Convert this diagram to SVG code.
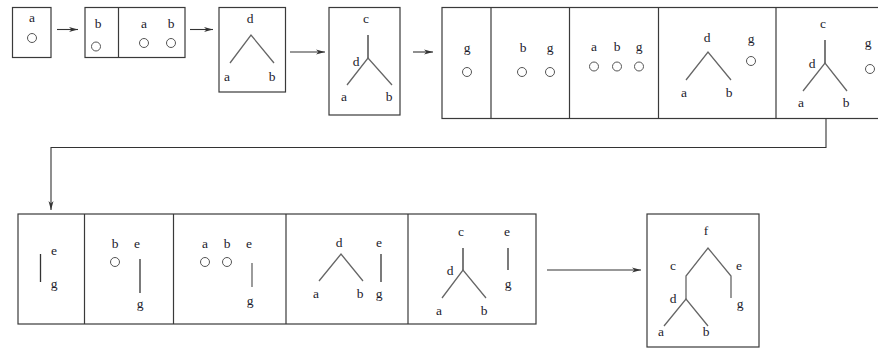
<svg xmlns="http://www.w3.org/2000/svg" width="878" height="356" viewBox="0 0 878 356">
<defs>
<style>
.box{fill:none;stroke:#3a3a3a;stroke-width:1.2}
.ln{fill:none;stroke:#666;stroke-width:1.3}
.vl{fill:none;stroke:#333;stroke-width:1.3}
.c{fill:none;stroke:#555;stroke-width:1}
.con{fill:none;stroke:#333;stroke-width:1.1}
text{font-family:'Liberation Serif','Times New Roman',serif;font-size:13.5px;fill:#1c1c2c;text-anchor:middle}
</style>
<marker id="ah" markerWidth="10" markerHeight="6" refX="9" refY="3" orient="auto" markerUnits="userSpaceOnUse">
<path d="M0,0.5 L9,3 L0,5.5 L2.5,3 z" fill="#333"/>
</marker>
</defs>
<g id="connectors">
<line class="con" x1="57" y1="29.5" x2="78" y2="29.5" marker-end="url(#ah)"/>
<line class="con" x1="190" y1="29.5" x2="213" y2="29.5" marker-end="url(#ah)"/>
<line class="con" x1="290" y1="52" x2="325" y2="52" marker-end="url(#ah)"/>
<line class="con" x1="413" y1="52" x2="433" y2="52" marker-end="url(#ah)"/>
<polyline class="con" points="826,119 826,147.5 51,147.5 51,210" marker-end="url(#ah)"/>
<line class="con" x1="547" y1="270" x2="641" y2="270" marker-end="url(#ah)"/>
</g>
<g font-family="Liberation Serif, Times New Roman, serif">
<g id="n1">
<rect class="box" x="12.5" y="7.5" width="38.5" height="50"/>
<text x="32" y="22">a</text>
<circle class="c" cx="32" cy="38" r="4.5"/>
</g>
<g id="n2">
<rect class="box" x="85" y="7.5" width="100" height="50"/>
<line class="box" x1="118.5" y1="7.5" x2="118.5" y2="57.5"/>
<text x="98" y="28">b</text>
<circle class="c" cx="96" cy="46.5" r="4.5"/>
<text x="144" y="28">a</text>
<text x="171" y="28">b</text>
<circle class="c" cx="144" cy="43" r="4.5"/>
<circle class="c" cx="171" cy="43" r="4.5"/>
</g>
<g id="n3">
<rect class="box" x="219" y="7.5" width="66.5" height="84.5"/>
<text x="250" y="23">d</text>
<polyline class="ln" points="230,63 251,35 274,63"/>
<text x="227" y="81">a</text>
<text x="272" y="81">b</text>
</g>
<g id="n4">
<rect class="box" x="329" y="7.5" width="71" height="107.5"/>
<text x="366" y="23">c</text>
<line class="vl" x1="368" y1="35" x2="368" y2="58"/>
<polyline class="ln" points="347,85 368,58 392,85"/>
<text x="356" y="66">d</text>
<text x="344" y="101">a</text>
<text x="389" y="101">b</text>
</g>
<g id="n5">
<rect class="box" x="442" y="7.5" width="440" height="111"/>
<line class="box" x1="491" y1="7.5" x2="491" y2="118.5"/>
<line class="box" x1="569.5" y1="7.5" x2="569.5" y2="118.5"/>
<line class="box" x1="658.5" y1="7.5" x2="658.5" y2="118.5"/>
<line class="box" x1="776" y1="7.5" x2="776" y2="118.5"/>
<text x="467" y="52">g</text>
<circle class="c" cx="467" cy="72" r="4.5"/>
<text x="523" y="52">b</text>
<text x="550" y="52">g</text>
<circle class="c" cx="522" cy="72" r="4.5"/>
<circle class="c" cx="550" cy="72" r="4.5"/>
<text x="594" y="51">a</text>
<text x="617" y="51">b</text>
<text x="639" y="51">g</text>
<circle class="c" cx="594" cy="66.5" r="4.5"/>
<circle class="c" cx="617" cy="66.5" r="4.5"/>
<circle class="c" cx="639" cy="66.5" r="4.5"/>
<text x="707" y="42">d</text>
<polyline class="ln" points="686,80 708,52 731,80"/>
<text x="684" y="97">a</text>
<text x="729" y="97">b</text>
<text x="751" y="43">g</text>
<circle class="c" cx="751" cy="61" r="4.5"/>
<text x="823" y="28">c</text>
<line class="vl" x1="825" y1="40" x2="825" y2="63"/>
<polyline class="ln" points="803,91 825,63 847,91"/>
<text x="812" y="68">d</text>
<text x="801" y="107">a</text>
<text x="846" y="107">b</text>
<text x="868" y="47">g</text>
<circle class="c" cx="870" cy="69" r="4.5"/>
</g>
<g id="n6">
<rect class="box" x="18" y="214" width="518" height="110"/>
<line class="box" x1="84.5" y1="214" x2="84.5" y2="324"/>
<line class="box" x1="173.5" y1="214" x2="173.5" y2="324"/>
<line class="box" x1="286" y1="214" x2="286" y2="324"/>
<line class="box" x1="408" y1="214" x2="408" y2="324"/>
<line class="vl" x1="40.5" y1="254" x2="40.5" y2="282"/>
<text x="54" y="255">e</text>
<text x="54" y="288">g</text>
<text x="115" y="248">b</text>
<text x="137" y="248">e</text>
<circle class="c" cx="115" cy="262" r="4.5"/>
<line class="vl" x1="140" y1="259" x2="140" y2="293"/>
<text x="140" y="308">g</text>
<text x="205" y="248">a</text>
<text x="227" y="248">b</text>
<text x="249" y="248">e</text>
<circle class="c" cx="205" cy="262" r="4.5"/>
<circle class="c" cx="227" cy="262" r="4.5"/>
<line class="ln" x1="252" y1="263" x2="252" y2="287"/>
<text x="250" y="305">g</text>
<text x="339" y="247">d</text>
<polyline class="ln" points="319,281 341,254 363,281"/>
<text x="316" y="298">a</text>
<text x="360" y="298">b</text>
<text x="379" y="247">e</text>
<line class="vl" x1="381" y1="254" x2="381" y2="282"/>
<text x="379" y="298">g</text>
<text x="461" y="236">c</text>
<line class="vl" x1="463" y1="248" x2="463" y2="270"/>
<polyline class="ln" points="442,298 463,270 486,298"/>
<text x="450" y="275">d</text>
<text x="439" y="315">a</text>
<text x="484" y="315">b</text>
<text x="507" y="236">e</text>
<line class="vl" x1="508" y1="248" x2="508" y2="270"/>
<text x="508" y="288">g</text>
</g>
<g id="n7">
<rect class="box" x="647" y="214" width="112" height="133"/>
<text x="706" y="235">f</text>
<polyline class="ln" points="686,299 686,276 708,248 731,276 731,298"/>
<text x="673" y="270">c</text>
<text x="739" y="270">e</text>
<text x="740" y="308">g</text>
<text x="673" y="303">d</text>
<polyline class="ln" points="664,326 686,299 708,326"/>
<text x="661" y="336">a</text>
<text x="706" y="336">b</text>
</g>
</g>
</svg>
